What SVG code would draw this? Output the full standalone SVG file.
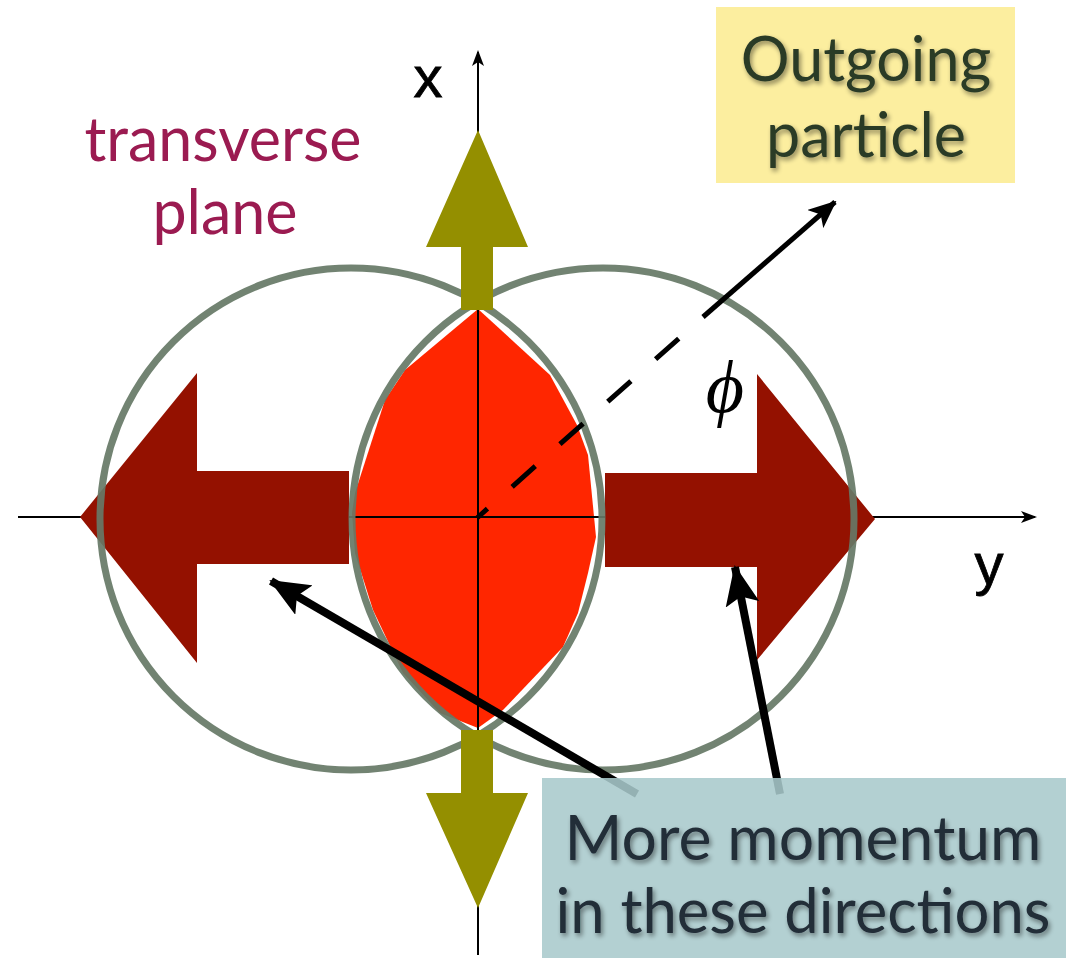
<svg xmlns="http://www.w3.org/2000/svg" width="1072" height="960" viewBox="0 0 1072 960">
<defs>
<style>
.axis{stroke:#000;stroke-width:2;fill:none}
.circ{fill:none;stroke:#667866;stroke-width:7;stroke-opacity:0.92}
.red{fill:#941100}
.olive{fill:#948f00}
.lbl{font-family:Lato,"Open Sans",sans-serif}
.big{font-size:61px;text-anchor:middle}
.ax{font-family:"Liberation Sans",Arial,sans-serif;font-size:58px;fill:#000;stroke:#000;stroke-width:0.8;text-anchor:middle}
</style>
<marker id="ax" markerWidth="16" markerHeight="12" refX="14" refY="6" orient="auto" markerUnits="userSpaceOnUse">
<path d="M0,0 L16,6 L0,12 L4,6 Z" fill="#000"/>
</marker>
<marker id="da" markerWidth="28" markerHeight="24" refX="26" refY="12" orient="auto" markerUnits="userSpaceOnUse">
<path d="M0,0 L28,12 L0,24 L7,12 Z" fill="#000"/>
</marker>
<marker id="ba" markerWidth="40" markerHeight="34" refX="38" refY="17" orient="auto" markerUnits="userSpaceOnUse">
<path d="M0,0 L40,17 L0,34 L8,17 Z" fill="#000"/>
</marker>
<filter id="sh" x="-10%" y="-10%" width="120%" height="130%">
<feGaussianBlur in="SourceAlpha" stdDeviation="2.5"/>
<feOffset dx="2" dy="3" result="b"/>
<feComponentTransfer><feFuncA type="linear" slope="0.45"/></feComponentTransfer>
<feMerge><feMergeNode/><feMergeNode in="SourceGraphic"/></feMerge>
</filter>
</defs>

<g id="lens">
<polygon fill="#ff2600" points="478,309 550,375 577,425 588,455 596,537 588,573 578,613 563,647 503,710 478,728 440,713 403,673 373,610 355,553 352,513 355,493 385,400 405,370"/>
</g>

<g id="axes">
<line class="axis" x1="18" y1="517" x2="1035" y2="517" marker-end="url(#ax)"/>
<line class="axis" x1="478" y1="955" x2="478" y2="52" marker-end="url(#ax)"/>
<text class="ax" x="428" y="97">x</text>
<text class="ax" x="989" y="584">y</text>
</g>

<g id="arrow-left"><polygon class="red" points="80,517 197,373 197,471 349,471 349,564 197,564 197,663"/></g>
<g id="arrow-right"><polygon class="red" points="875,519 757,374 757,473 605,473 605,567 757,567 757,660"/></g>

<g id="circles">
<circle class="circ" cx="351" cy="519" r="251"/>
<circle class="circ" cx="603" cy="519" r="251"/>
</g>

<g id="arrow-up"><polygon class="olive" points="478,130 528,247 493,247 493,310 461,310 461,247 426,247"/></g>
<g id="arrow-down"><polygon class="olive" points="478,908 528,793 493,793 493,730 461,730 461,793 426,793"/></g>

<g id="connectors">
<line x1="477" y1="518" x2="703" y2="317" stroke="#000" stroke-width="5" stroke-dasharray="14,33,31,33,31,33,31,33,31,40"/>
<line x1="703" y1="317" x2="835" y2="202" stroke="#000" stroke-width="5" marker-end="url(#da)"/>
<line x1="637" y1="794" x2="271" y2="581" stroke="#000" stroke-width="8" marker-end="url(#ba)"/>
<line x1="780" y1="794" x2="735" y2="567" stroke="#000" stroke-width="8" marker-end="url(#ba)"/>
</g>

<g id="phi">
<text x="725" y="412" font-family="'Liberation Serif',serif" font-style="italic" font-size="74" text-anchor="middle" fill="#000">ϕ</text>
</g>

<g id="label-transverse">
<text class="lbl big" x="223" y="161" fill="#9b1b51" textLength="277" lengthAdjust="spacingAndGlyphs">transverse</text>
<text class="lbl big" x="225" y="234" fill="#9b1b51">plane</text>
</g>

<g id="box-outgoing">
<rect x="716" y="7" width="299" height="176" fill="#fcee9f"/>
<text class="lbl big" x="866" y="81" fill="#2b3b27" filter="url(#sh)">Outgoing</text>
<text class="lbl big" x="866" y="157" fill="#2b3b27" filter="url(#sh)">particle</text>
</g>

<g id="box-momentum">
<rect x="542" y="778" width="524" height="180" fill="#a9c9cc" fill-opacity="0.88"/>
<text class="lbl big" x="803" y="860" fill="#222d38" filter="url(#sh)" font-size="62" textLength="477" lengthAdjust="spacingAndGlyphs">More momentum</text>
<text class="lbl big" x="803" y="933" fill="#222d38" filter="url(#sh)" font-size="62" textLength="495" lengthAdjust="spacingAndGlyphs">in these directions</text>
</g>
</svg>
